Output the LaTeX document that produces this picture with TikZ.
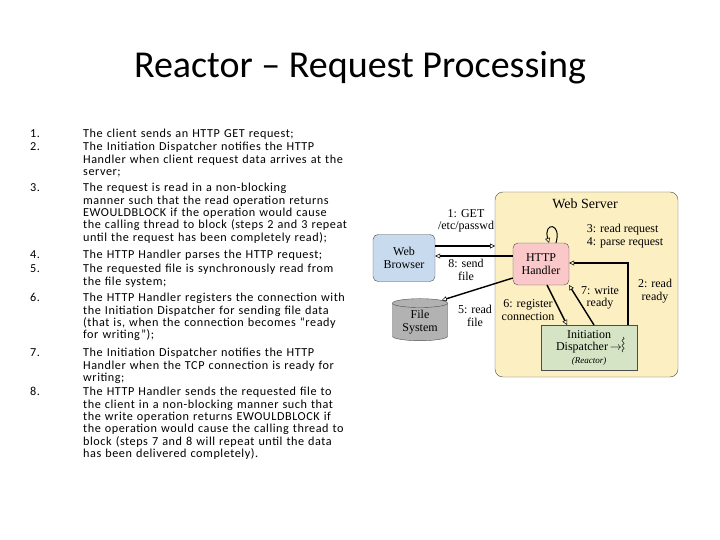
\documentclass[tikz,border=0pt]{standalone}
\usepackage{fontspec}
\setmainfont{Carlito}
\newfontfamily\dfont{Liberation Serif}
\usetikzlibrary{arrows.meta,shapes.geometric}
\definecolor{wsfill}{RGB}{252,240,195}
\definecolor{wbfill}{RGB}{200,218,238}
\definecolor{hhfill}{RGB}{250,200,200}
\definecolor{idfill}{RGB}{212,228,196}
\newcommand\myNoHyph{\hyphenpenalty10000 \exhyphenpenalty10000 \addfontfeature{LetterSpace=4.5}\relax}
\newcommand\myItem[2]{\llap{\makebox[53pt][l]{#1.}}#2}
\begin{document}
\begin{tikzpicture}[x=1pt,y=-1pt,
 box/.style={draw=black!70,rounded corners=5pt},
 lbl/.style={font=\dfont\fontsize{12}{12.5}\selectfont,align=center,inner sep=0pt},
 conn/.style={line width=1.4pt,-{Triangle[open,length=5pt,width=5pt,line width=0.5pt]}},
 item/.style={anchor=north west,inner sep=0pt,text width=263pt,align=left,font=\fontsize{12.2}{12.4}\selectfont\myNoHyph}]
\useasboundingbox (0,0) rectangle (720,540);
\node[font=\fontsize{38}{42}\selectfont] (title) at (360,68) {Reactor -- Request Processing};
\foreach \n/\y/\t in {1/129/{The client sends an HTTP GET request;},
 2/142/{The Initiation Dispatcher notifies the HTTP Handler when client request data arrives at the server;},
 3/183/{The request is read in a non-blocking manner such that the read operation returns EWOULDBLOCK if the operation would cause the calling thread to block (steps 2 and 3 repeat until the request has been completely read);},
 4/250/{The HTTP Handler parses the HTTP request;},
 5/264/{The requested file is synchronously read from the file system;},
 6/293/{The HTTP Handler registers the connection with the Initiation Dispatcher for sending file data (that is, when the connection becomes “ready for writing”);},
 7/348/{The Initiation Dispatcher notifies the HTTP Handler when the TCP connection is ready for writing;},
 8/387/{The HTTP Handler sends the requested file to the client in a non-blocking manner such that the write operation returns EWOULDBLOCK if the operation would cause the calling thread to block (steps 7 and 8 will repeat until the data has been delivered completely).}}
 {\node[item] (t\n) at (83,\y) {\myItem{\n}{\t}};}
% diagram
\draw[box,fill=wsfill,rounded corners=8pt] (495,192) rectangle (678,377);
\node[lbl,font=\dfont\fontsize{14}{15}\selectfont] (ws) at (585,204) {Web Server};
\node[box,fill=wbfill,minimum width=62pt,minimum height=47pt,lbl] (wb) at (404,258) {Web\\Browser};
\node[box,fill=hhfill,minimum width=56pt,minimum height=42pt,lbl] (hh) at (541,264) {HTTP\\Handler};
\node[draw=black!70,fill=idfill,minimum width=96pt,minimum height=45pt,lbl] (id) at (589,347.5) {Initiation\\Dispatcher\,$\rightarrow$\hspace{10pt}\\{\itshape\fontsize{9}{10}\selectfont (Reactor)}};
\node[cylinder,shape border rotate=90,aspect=0.25,draw=black!70,fill=black!30,minimum width=55pt,minimum height=42pt,lbl] (fs) at (420,322) {File\\System};
\coordinate (sq) at (623,337);
\draw[thin] (sq) .. controls +(4,2) and +(-4,-2) .. ++(0,5) .. controls +(4,2) and +(-4,-2) .. ++(0,5) .. controls +(4,2) and +(-4,-2) .. ++(0,5);
% connectors
\coordinate (a1) at (495,246);
\draw[conn] (wb.east |- a1) -- (a1);
\node[lbl] at (466,221) {1: GET\\/etc/passwd};
\draw[conn] (hh.west |- 0,256) -- (wb.east |- 0,256);
\node[lbl] at (466,270) {8: send\\file};
\coordinate (lp1) at (549,243);
\coordinate (lp2) at (556,243);
\draw[conn,line width=1pt] (lp2) .. controls (562,222) and (543,222) .. (lp1);
\draw[conn] (hh.west |- 0,278) -- (fs.north east);
\node[lbl] at (475,316) {5: read\\file};
\node[lbl,align=left] at (625,236) {3: read request\\4: parse request};
\draw[conn] (547,285) -- (567,325);
\node[lbl] at (528,310) {6: register\\connection};
\draw[conn] (594,325) -- (569,285);
\node[lbl] at (600,298) {7: write\\ready};
\draw[conn] (628,325) |- (hh.east |- 0,263);
\node[lbl] at (655,291) {2: read\\ready};
\end{tikzpicture}
\end{document}
